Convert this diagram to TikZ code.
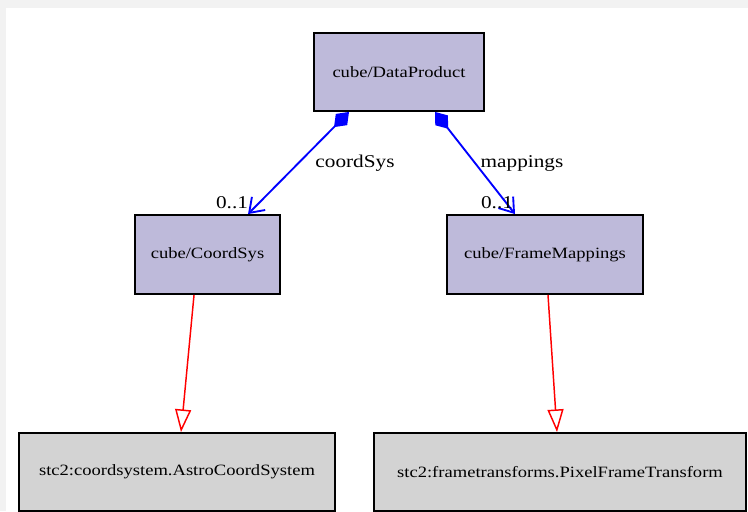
\documentclass[tikz,border=0pt]{standalone}
\usepackage{fontspec}
\setmainfont{Liberation Serif}
\newfontfamily\widefont[FakeStretch=1.18]{Liberation Serif}
\usetikzlibrary{arrows.meta}
\definecolor{classfill}{HTML}{BEBADA}
\definecolor{extfill}{HTML}{D3D3D3}
\definecolor{pagegray}{HTML}{F2F2F2}
\tikzstyle{cls} = [draw=black, line width=1.4pt, fill=classfill, inner sep=0pt, font=\widefont\fontsize{11.8}{14}\selectfont]
\tikzstyle{ext} = [draw=black, line width=1.4pt, fill=extfill, inner sep=0pt, font=\widefont\fontsize{11.8}{14}\selectfont]
\tikzstyle{comp} = [draw=blue, line width=1.4pt, {Diamond[length=16pt,width=12pt]}-{Straight Barb[length=10pt,width=14pt]}]
\tikzstyle{inherit} = [draw=red, line width=1.1pt, -{Triangle[open,fill=white,length=17pt,width=12pt]}]
\tikzstyle{lbl} = [font=\widefont\fontsize{13.5}{16}\selectfont, inner sep=0pt]

\begin{document}
\begin{tikzpicture}[x=0.75pt,y=-0.75pt]

\clip (0,0) rectangle (748,511);
\fill[pagegray] (0,0) rectangle (748,511);
\fill[white] (6,8) rectangle (748,511);

%classes of the cube package
\node[cls, minimum width=127.5pt, minimum height=58.5pt] (dataproduct) at (399,72) {cube/DataProduct};
\node[cls, minimum width=108.75pt, minimum height=59.25pt] (coordsys) at (207.5,254.5) {cube/CoordSys};
\node[cls, minimum width=147pt, minimum height=59.25pt] (framemap) at (545,254.5) {cube/FrameMappings};

%external stc2 classes, cut at the bottom
\node[ext, minimum width=237pt, minimum height=58.5pt] (astrocs) at (177,472) {stc2:coordsystem.AstroCoordSystem};
\node[ext, minimum width=279pt, minimum height=58.5pt] (pixelft) at (560,472) {stc2:frametransforms.PixelFrameTransform};

%composition links
\draw[comp] ([xshift=-37.5pt]dataproduct.south) -- ([xshift=30.4pt]coordsys.north);
\draw[comp] ([xshift=27pt]dataproduct.south) -- ([xshift=-22.5pt]framemap.north);

\node[lbl] (coordsyslbl) at (355,163) {coordSys};
\node[lbl] (mappingslbl) at (522,163) {mappings};
\node[lbl] (multcs) at (232,203) {0..1};
\node[lbl] (multfm) at (497,203) {0..1};

%generalisation links
\draw[inherit] ([xshift=-10.1pt]coordsys.south) -- ([xshift=3pt]astrocs.north);
\draw[inherit] ([xshift=2.25pt]framemap.south) -- ([xshift=-2.25pt]pixelft.north);

\end{tikzpicture}
\end{document}
